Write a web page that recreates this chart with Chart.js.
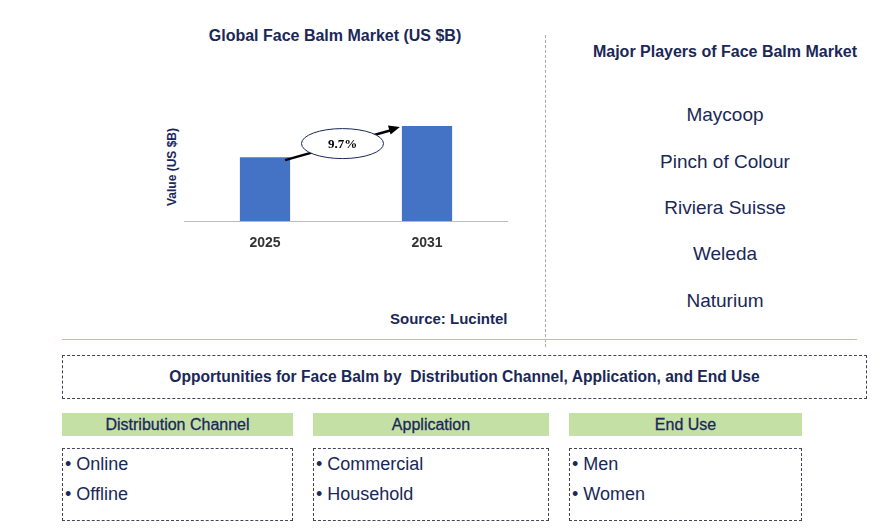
<!DOCTYPE html>
<html><head><meta charset="utf-8">
<script src="https://cdn.jsdelivr.net/npm/chart.js@4/dist/chart.umd.min.js"></script>
<style>
body{margin:0;width:892px;height:532px;background:#fff;font-family:"Liberation Sans",Arial,sans-serif;color:#1a2858;position:relative;overflow:hidden}
.a{position:absolute}
.c{text-align:center}
.hdr{background:#c5e0a5;font-size:16px;text-align:center;line-height:23px;height:23px;font-weight:500;-webkit-text-stroke:0.3px #1a2858}
.box{border:1px dashed #445;box-sizing:border-box}
.li{font-size:18px;line-height:30px;padding-left:2px}
.pl{position:absolute;left:575px;width:300px;text-align:center;font-size:19px}
</style></head><body>
<div class="a c" style="left:150px;width:370px;top:27px;font-size:16px;font-weight:bold">Global Face Balm Market (US $B)</div>
<div class="a" style="left:112px;top:160px;width:120px;transform:rotate(-90deg);text-align:center;font-size:12px;font-weight:bold">Value (US $B)</div>
<div class="a" style="left:184px;top:98px;width:324px;height:160px"><canvas id="c"></canvas></div>
<div class="a" style="left:390px;top:310px;font-size:15px;font-weight:bold">Source: Lucintel</div>
<div class="a" style="left:545px;top:35px;height:312px;border-left:1px dashed #aaa"></div>
<div class="a" style="left:62px;top:339px;width:795px;border-top:1px solid #ffc000"></div>
<div class="pl" style="top:43px;font-size:16px;font-weight:bold">Major Players of Face Balm Market</div>
<div class="pl" style="top:104px">Maycoop</div>
<div class="pl" style="top:151px">Pinch of Colour</div>
<div class="pl" style="top:197px">Riviera Suisse</div>
<div class="pl" style="top:243px">Weleda</div>
<div class="pl" style="top:290px">Naturium</div>
<div class="a box c" style="left:62px;top:355px;width:805px;height:44px;line-height:42px;font-size:15.6px;font-weight:bold">Opportunities for Face Balm by&nbsp; Distribution Channel, Application, and End Use</div>
<div class="a hdr" style="left:62px;top:413px;width:231px">Distribution Channel</div>
<div class="a hdr" style="left:313px;top:413px;width:236px">Application</div>
<div class="a hdr" style="left:569px;top:413px;width:233px">End Use</div>
<div class="a box li" style="left:62px;top:448px;width:231px;height:73px">• Online<br>• Offline</div>
<div class="a box li" style="left:313px;top:448px;width:236px;height:73px">• Commercial<br>• Household</div>
<div class="a box li" style="left:569px;top:448px;width:233px;height:73px">• Men<br>• Women</div>
<script>
const years=["2025","2031"];
const values=[1.04,1.545];
const cagr="9.7%";
const deco={id:'deco',afterDatasetsDraw(ch){
 const m=ch.getDatasetMeta(0).data, g=ch.ctx;
 const x1=m[0].x+m[0].width/2-5, y1=m[0].y+3, x2=m[1].x-m[1].width/2-2, y2=m[1].y+1;
 g.save();g.strokeStyle='#000';g.lineWidth=2.5;g.beginPath();g.moveTo(x1,y1);g.lineTo(x2-8,y2+3);g.stroke();
 const ang=Math.atan2(y2-y1,x2-x1);g.fillStyle='#000';g.beginPath();g.moveTo(x2,y2);
 g.lineTo(x2-12*Math.cos(ang-0.4),y2-12*Math.sin(ang-0.4));g.lineTo(x2-12*Math.cos(ang+0.4),y2-12*Math.sin(ang+0.4));g.fill();
 const cx=(x1+x2)/2, cy=(y1+y2)/2;
 g.fillStyle='#fff';g.strokeStyle='#1a2858';g.lineWidth=1;g.beginPath();g.ellipse(cx,cy,41,15,0,0,2*Math.PI);g.fill();g.stroke();
 g.fillStyle='#000';g.font='bold 13px "Liberation Serif"';g.textAlign='center';g.textBaseline='middle';g.fillText(cagr,cx,cy+1);g.restore();}};
new Chart(document.getElementById('c'),{type:'bar',data:{labels:years,datasets:[{data:values,backgroundColor:'#4472c4',barPercentage:0.31,categoryPercentage:1}]},
options:{responsive:true,maintainAspectRatio:false,animation:false,plugins:{legend:{display:false},tooltip:{enabled:false}},layout:{padding:0},
scales:{y:{display:false,min:0,max:2.0},x:{grid:{display:false},border:{color:'#bbb'},ticks:{color:'#333',font:{size:14,weight:'bold',family:'Liberation Sans'},padding:6}}}},plugins:[deco]});
</script></body></html>
